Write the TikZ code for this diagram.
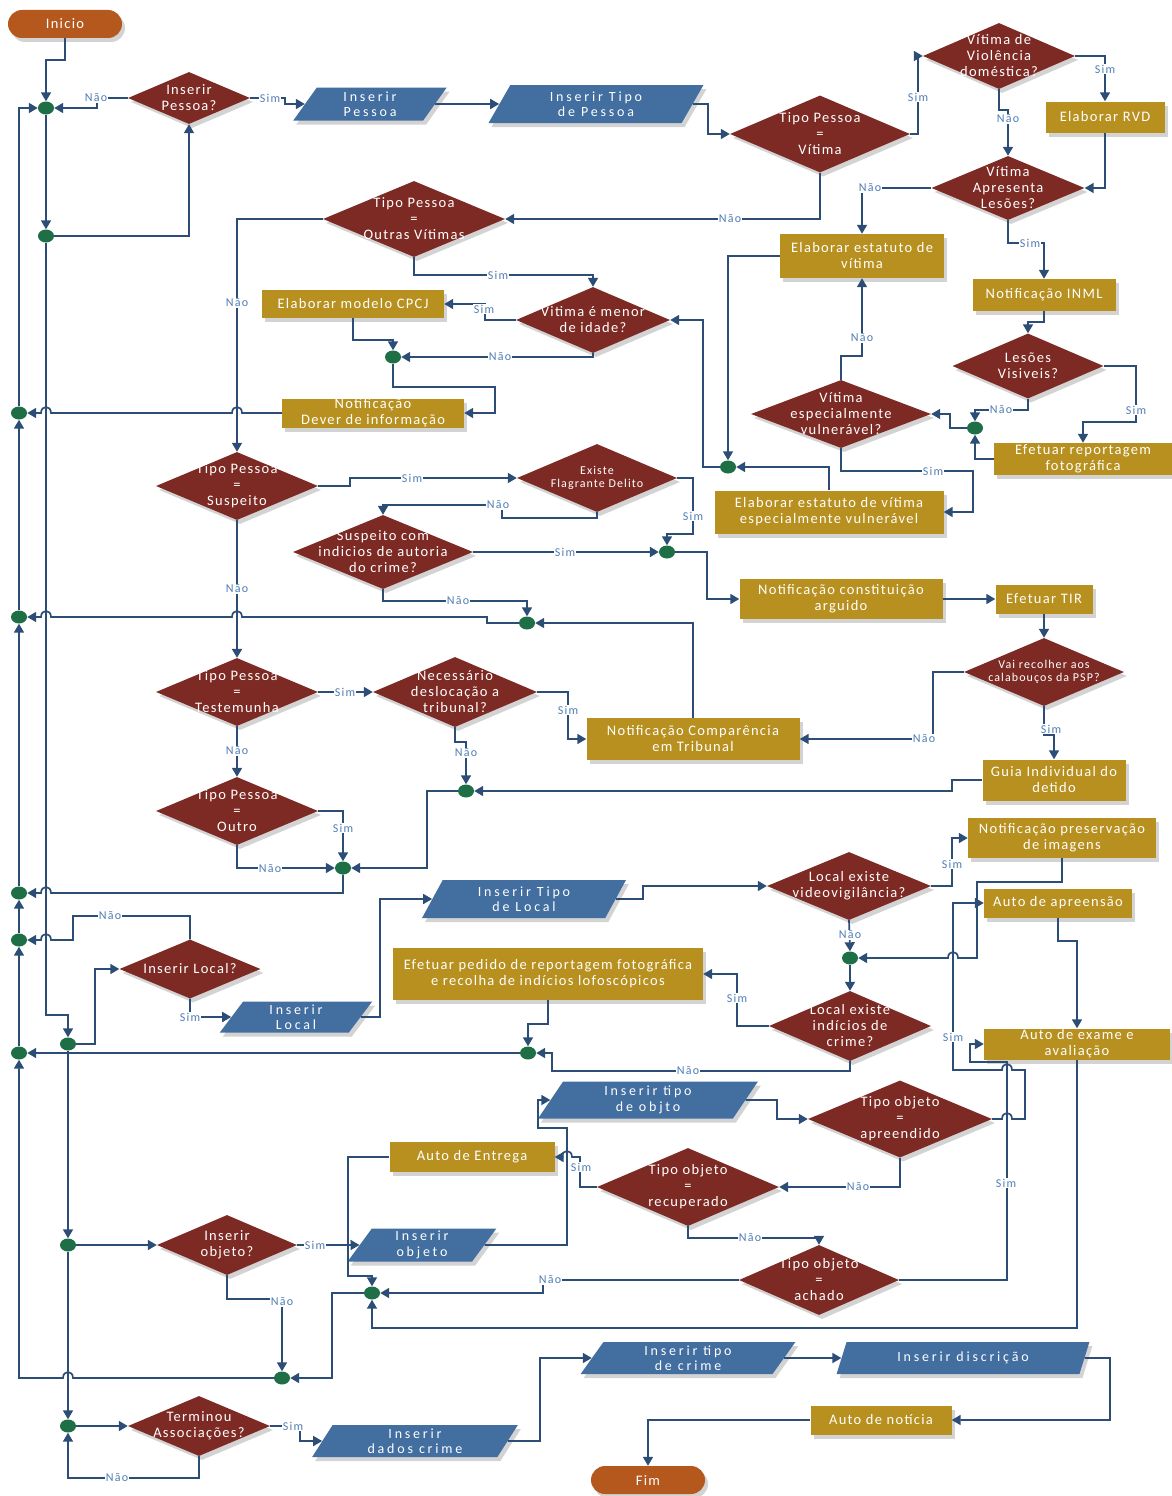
\documentclass[tikz,border=0pt]{standalone}
\usepackage{fontspec}
\setmainfont{Carlito}
\newfontfamily\boxfont[LetterSpace=9]{Carlito}
\newfontfamily\parafont[LetterSpace=20]{Carlito}
\newfontfamily\labfont[LetterSpace=10]{Carlito}
\usetikzlibrary{shapes.geometric,arrows.meta,shadows}
\definecolor{diac}{RGB}{125,42,36}
\definecolor{goldc}{RGB}{184,144,32}
\definecolor{bluec}{RGB}{66,110,160}
\definecolor{termc}{RGB}{180,88,30}
\definecolor{dotc}{RGB}{30,110,70}
\definecolor{linec}{RGB}{44,78,118}
\definecolor{lblc}{RGB}{80,125,180}
\tikzset{
 ln/.style={draw=linec, line width=1.7pt},
 ar/.style={ln, -{Triangle[length=9pt,width=10pt]}},
 heavy/.style={line width=2.7pt},
 shad/.style={drop shadow={shadow xshift=3pt, shadow yshift=-4pt, opacity=0.35, fill=black!50}},
 dia/.style={diamond, fill=diac, inner sep=0pt, shad},
 dtxt/.style={text=white, align=center, font={\boxfont\fontsize{14.5pt}{16pt}\selectfont}},
 dsmall/.style={font={\boxfont\fontsize{12pt}{13.5pt}\selectfont}},
 gbox/.style={rectangle, fill=goldc, text=white, inner sep=0pt, align=center, font={\boxfont\fontsize{14.5pt}{16pt}\selectfont}, shad},
 para/.style={trapezium, trapezium left angle=65, trapezium right angle=115, trapezium stretches=true, fill=bluec, text=white, inner sep=0pt, align=center, font={\parafont\fontsize{14pt}{15.5pt}\selectfont}, shad},
 term/.style={rectangle, rounded corners=14pt, fill=termc, text=white, font={\boxfont\fontsize{14.5pt}{16pt}\selectfont}, minimum width=114pt, minimum height=28pt, shad},
 jdot/.style={ellipse, fill=dotc, minimum width=16pt, minimum height=13pt, inner sep=0pt},
 lbl/.style={font={\labfont\fontsize{12pt}{13pt}\selectfont}, text=lblc, fill=white, inner sep=0.6pt},
}
\newcommand\dnode[7][]{\node[dia, minimum width=#5pt, minimum height=#6pt] (#2) at (#3,#4) {};
 \node[dtxt,#1] at (#2.center) {#7};}
\begin{document}
\begin{tikzpicture}[x=1pt,y=-1pt]
\useasboundingbox (0,0) rectangle (1172,1496);
% terminals
\node[term] (ini) at (65,24) {Inicio};
\node[term] (fim) at (648,1480) {Fim};
% parallelograms
\node[para, minimum width=154pt, minimum height=33pt] (PIP) at (370,104) {Inserir\\Pessoa};
\node[para, minimum width=215pt, minimum height=38pt] (PTP) at (596,104) {Inserir Tipo\\de Pessoa};
\node[para, minimum width=204pt, minimum height=38pt] (PTL) at (524,899) {Inserir Tipo\\de Local};
\node[para, minimum width=153pt, minimum height=31pt] (PIL) at (296,1017) {Inserir\\Local};
\node[para, minimum width=220pt, minimum height=37pt] (PTO) at (648,1100) {Inserir tipo\\de objto};
\node[para, minimum width=150pt, minimum height=33pt] (PIO) at (422,1245) {Inserir\\objeto};
\node[para, minimum width=206pt, minimum height=32pt] (PDC) at (415,1441) {Inserir\\dados crime};
\node[para, minimum width=215pt, minimum height=32pt] (PTC) at (688,1358) {Inserir tipo\\de crime};
\node[para, minimum width=253pt, minimum height=32pt] (PDI) at (963,1358) {Inserir discrição};
% gold boxes
\node[gbox, minimum width=119pt, minimum height=31pt] (RVD) at (1105,117) {Elaborar RVD};
\node[gbox, minimum width=164pt, minimum height=44pt] (EEV) at (862,256) {Elaborar estatuto de\\vítima};
\node[gbox, minimum width=143pt, minimum height=32pt] (INML) at (1044,295) {Notificação INML};
\node[gbox, minimum width=182pt, minimum height=28pt] (CPCJ) at (353,304) {Elaborar modelo CPCJ};
\node[gbox, minimum width=182pt, minimum height=29pt] (NDI) at (373,413) {Notificação\\Dever de informação};
\node[gbox, minimum width=178pt, minimum height=32pt] (ERF) at (1083,459) {Efetuar reportagem\\fotográfica};
\node[gbox, minimum width=229pt, minimum height=43pt] (EEVE) at (829,512) {Elaborar estatuto de vítima\\especialmente vulnerável};
\node[gbox, minimum width=203pt, minimum height=40pt] (NCA) at (841,599) {Notificação constituição\\arguido};
\node[gbox, minimum width=97pt, minimum height=29pt] (TIR) at (1044,599) {Efetuar TIR};
\node[gbox, minimum width=213pt, minimum height=42pt] (NCT) at (693,739) {Notificação Comparência\\em Tribunal};
\node[gbox, minimum width=143pt, minimum height=41pt] (GID) at (1054,780) {Guia Individual do\\detido};
\node[gbox, minimum width=188pt, minimum height=40pt] (NPI) at (1062,838) {Notificação preservação\\de imagens};
\node[gbox, minimum width=148pt, minimum height=29pt] (AAP) at (1058,903) {Auto de apreensão};
\node[gbox, minimum width=186pt, minimum height=31pt] (AEA) at (1077,1044) {Auto de exame e\\avaliação};
\node[gbox, minimum width=310pt, minimum height=52pt] (EPR) at (548,974) {Efetuar pedido de reportagem fotográfica\\e recolha de indícios lofoscópicos};
\node[gbox, minimum width=165pt, minimum height=30pt] (AEN) at (472,1157) {Auto de Entrega};
\node[gbox, minimum width=141pt, minimum height=29pt] (ANO) at (881,1420) {Auto de notícia};
% diamonds
\dnode{DIP}{189}{98}{122}{52}{Inserir\\Pessoa?}
\dnode{DTV}{820}{134}{180}{77}{Tipo Pessoa\\=\\Vítima}
\dnode{DVD}{999}{56}{152}{66}{Vítima de\\Violência\\doméstica?}
\dnode{DVL}{1008}{188}{153}{64}{Vítima\\Apresenta\\Lesões?}
\dnode{DOV}{414}{219}{182}{76}{Tipo Pessoa\\=\\Outras Vítimas}
\dnode{DME}{593}{320}{154}{66}{Vitima é menor\\de idade?}
\dnode{DLV}{1028}{366}{151}{65}{Lesões\\Visiveis?}
\dnode{DEV}{841}{414}{180}{68}{Vítima\\especialmente\\vulnerável?}
\dnode{DSU}{237}{486}{162}{68}{Tipo Pessoa\\=\\Suspeito}
\dnode[dsmall]{DFL}{597}{478}{160}{68}{Existe\\Flagrante Delito}
\dnode{DIN}{383}{552}{180}{74}{Suspeito com\\indicios de autoria\\do crime?}
\dnode[dsmall]{DPS}{1044}{672}{160}{68}{Vai recolher aos\\calabouços da PSP?}
\dnode{DTE}{237}{692}{162}{68}{Tipo Pessoa\\=\\Testemunha}
\dnode{DNE}{455}{692}{164}{70}{Necessário\\deslocação a\\tribunal?}
\dnode{DOU}{237}{811}{162}{68}{Tipo Pessoa\\=\\Outro}
\dnode{DVI}{849}{886}{164}{68}{Local existe\\videovigilância?}
\dnode{DIL}{190}{969}{141}{59}{Inserir Local?}
\dnode{DIC}{850}{1026}{162}{70}{Local existe\\indícios de\\crime?}
\dnode{DAP}{900}{1119}{184}{77}{Tipo objeto\\=\\apreendido}
\dnode{DRE}{688}{1187}{182}{78}{Tipo objeto\\=\\recuperado}
\dnode{DIO}{227}{1245}{140}{60}{Inserir\\objeto?}
\dnode{DAC}{819}{1280}{160}{70}{Tipo objeto\\=\\achado}
\dnode{DTA}{199}{1426}{142}{60}{Terminou\\Associações?}
% junction dots
\node[jdot] (J1) at (46,108) {};
\node[jdot] (J2) at (46,236) {};
\node[jdot] (Jl) at (68,1044) {};
\node[jdot] (Jo) at (68,1245) {};
\node[jdot] (Jt) at (68,1426) {};
\node[jdot] (L1) at (19,413) {};
\node[jdot] (L2) at (19,617) {};
\node[jdot] (L3) at (19,893) {};
\node[jdot] (L4) at (19,940) {};
\node[jdot] (L5) at (19,1053) {};
\node[jdot] (Jcp) at (393,357) {};
\node[jdot] (Jev) at (728,467) {};
\node[jdot] (Jvu) at (975,428) {};
\node[jdot] (Jar) at (667,552) {};
\node[jdot] (Jte) at (527,623) {};
\node[jdot] (Jne) at (466,791) {};
\node[jdot] (Jou) at (343,868) {};
\node[jdot] (Jvi) at (850,958) {};
\node[jdot] (Jef) at (528,1053) {};
\node[jdot] (Jen) at (372,1293) {};
\node[jdot] (Jfi) at (282,1378) {};
% connectors
\draw[ar] (ini.south) -- (65,60) -- (46,60) -- (J1.north);
\draw[ar] (DIP.west) -- (97,98) -- (97,108) -- (J1.east);
\draw[ar] (L1.north) -- (19,108) -- (J1.west);
\draw[ar] (J1.south) -- (J2.north);
\draw[ar] (J2.east) -- (189,236) -- (DIP.south);
\draw[ar] (J2.south) -- (46,1015) -- (68,1015) -- (Jl.north);
\draw[ar] (DIP.east) -- (285,98) -- (285,104) -- (PIP.west);
\draw[ar] (PIP.east) -- (PTP.west);
\draw[ar] (PTP.east) -- (708,104) -- (708,134) -- (DTV.west);
\draw[ar] (DTV.east) -- (918,134) -- (918,56) -- (DVD.west);
\draw[ar] (DVD.east) -- (1105,56) -- (RVD.north);
\draw[ar] (DVD.south) -- (999,110) -- (1008,110) -- (DVL.north);
\draw[ar] (RVD.south) -- (1105,188) -- (DVL.east);
\draw[ar] (DVL.west) -- (862,188) -- (EEV.north);
\draw[ar] (DVL.south) -- (1008,243) -- (1044,243) -- (INML.north);
\draw[ar] (INML.south) -- (1044,322) -- (1028,322) -- (DLV.north);
\draw[ar] (DLV.south) -- (1028,410) -- (975,410) -- (Jvu.north);
\draw[ar] (DLV.east) -- (1136,366) -- (1136,422) -- (1083,422) -- (ERF.north);
\draw[ar] (ERF.west) -- (975,459) -- (Jvu.south);
\draw[ar] (Jvu.west) -- (950,428) -- (950,414) -- (DEV.east);
\draw[ar] (DEV.north) -- (841,356) -- (862,356) -- (EEV.south);
\draw[ar] (DEV.south) -- (841,471) -- (973,471) -- (973,512) -- (EEVE.east);
\draw[ar] (EEVE.north) -- (829,467) -- (Jev.east);
\draw[ar] (EEV.west) -- (728,256) -- (Jev.north);
\draw[ar] (Jev.west) -- (703,467) -- (703,320) -- (DME.east);
\draw[ar] (DTV.south) -- (820,219) -- (DOV.east);
\draw[ar] (DOV.west) -- (237,219) -- (DSU.north);
\draw[ar] (DOV.south) -- (414,275) -- (593,275) -- (DME.north);
\draw[ar] (DME.west) -- (485,320) -- (485,304) -- (CPCJ.east);
\draw[ar] (DME.south) -- (593,357) -- (Jcp.east);
\draw[ar] (CPCJ.south) -- (353,340) -- (393,340) -- (Jcp.north);
\draw[ar] (Jcp.south) -- (393,387) -- (495,387) -- (495,413) -- (NDI.east);
\draw[ar] (NDI.west) -- (242,413) .. controls (242,405) and (232,405) .. (232,413) -- (51,413) .. controls (51,405) and (41,405) .. (41,413) -- (L1.east);
\draw[ar] (L2.north) -- (L1.south);
\draw[ar] (L3.north) -- (L2.south);
\draw[ar] (L4.north) -- (L3.south);
\draw[ar] (L5.north) -- (L4.south);
\draw[ar] (DSU.east) -- (350,486) -- (350,478) -- (DFL.west);
\draw[ar,heavy] (DSU.south) -- (DTE.north);
\draw[ar] (DFL.east) -- (693,478) -- (693,534) -- (667,534) -- (Jar.north);
\draw[ar] (DFL.south) -- (597,518) -- (502,518) -- (502,505) -- (383,505) -- (DIN.north);
\draw[ar,heavy] (DIN.east) -- (Jar.west);
\draw[ar] (DIN.south) -- (383,601) -- (527,601) -- (Jte.north);
\draw[ar] (Jar.east) -- (707,552) -- (707,599) -- (NCA.west);
\draw[ar] (NCA.east) -- (TIR.west);
\draw[ar] (TIR.south) -- (DPS.north);
\draw[ar] (DPS.west) -- (933,672) -- (933,739) -- (NCT.east);
\draw[ar] (DPS.south) -- (1044,735) -- (1054,735) -- (GID.north);
\draw[ar] (GID.west) -- (952,780) -- (952,791) -- (Jne.east);
\draw[ar] (NCT.north) -- (693,623) -- (Jte.east);
\draw[ar] (Jte.west) -- (487,623) -- (487,617) -- (242,617) .. controls (242,609) and (232,609) .. (232,617) -- (51,617) .. controls (51,609) and (41,609) .. (41,617) -- (L2.east);
\draw[ar] (DTE.east) -- (DNE.west);
\draw[ar] (DTE.south) -- (DOU.north);
\draw[ar] (DNE.east) -- (568,692) -- (568,739) -- (NCT.west);
\draw[ar] (DNE.south) -- (455,742) -- (466,742) -- (Jne.north);
\draw[ar] (Jne.west) -- (427,791) -- (427,868) -- (Jou.east);
\draw[ar] (DOU.east) -- (343,811) -- (Jou.north);
\draw[ar] (DOU.south) -- (237,868) -- (Jou.west);
\draw[ar] (Jou.south) -- (343,893) -- (51,893) .. controls (51,885) and (41,885) .. (41,893) -- (L3.east);
\draw[ar] (DIL.north) -- (190,916) -- (73,916) -- (73,940) -- (51,940) .. controls (51,932) and (41,932) .. (41,940) -- (L4.east);
\draw[ar] (Jl.east) -- (95,1044) -- (95,969) -- (DIL.west);
\draw[ar] (DIL.south) -- (190,1017) -- (PIL.west);
\draw[ar] (PIL.east) -- (380,1017) -- (380,899) -- (PTL.west);
\draw[ar] (PTL.east) -- (643,899) -- (643,886) -- (DVI.west);
\draw[ar] (DVI.east) -- (952,886) -- (952,838) -- (NPI.west);
\draw[ar] (DVI.south) -- (Jvi.north);
\draw[ar] (NPI.south) -- (1062,882) -- (977,882) -- (977,958) -- (958,958) .. controls (958,950) and (948,950) .. (948,958) -- (Jvi.east);
\draw[ar] (Jvi.south) -- (DIC.north);
\draw[ar] (DIC.west) -- (737,1026) -- (737,974) -- (EPR.east);
\draw[ar] (DIC.south) -- (850,1071) -- (552,1071) -- (552,1053) -- (Jef.east);
\draw[ar] (EPR.south) -- (548,1024) -- (528,1024) -- (Jef.north);
\draw[ar] (Jef.west) -- (L5.east);
\draw[ar] (Jl.south) -- (Jo.north);
\draw[ar] (Jo.east) -- (DIO.west);
\draw[ar] (Jo.south) -- (Jt.north);
\draw[ar] (DIO.east) -- (PIO.west);
\draw[ar] (DIO.south) -- (227,1299) -- (282,1299) -- (Jfi.north);
\draw[ar] (Jfi.west) -- (73,1378) .. controls (73,1370) and (63,1370) .. (63,1378) -- (19,1378) -- (L5.south);
\draw[ar] (PIO.east) -- (567,1245) -- (567,1128) -- (538,1128) -- (538,1100) -- (PTO.west);
\draw[ar] (PTO.east) -- (777,1100) -- (777,1119) -- (DAP.west);
\draw[ar] (DAP.south) -- (900,1187) -- (DRE.east);
\draw[ar] (DAP.east) -- (1002,1119) .. controls (1002,1111) and (1012,1111) .. (1012,1119) -- (1025,1119) -- (1025,1070) -- (1012,1070) .. controls (1012,1062) and (1002,1062) .. (1002,1070) -- (953,1070) -- (953,903) -- (AAP.west);
\draw[ar] (AAP.south) -- (1058,941) -- (1077,941) -- (AEA.north);
\draw[ar] (DAC.east) -- (1007,1280) -- (1007,1062) -- (970,1062) -- (970,1044) -- (AEA.west);
\draw[ar] (AEA.south) -- (1077,1328) -- (372,1328) -- (Jen.south);
\draw[ar] (DRE.west) -- (580,1187) -- (580,1157) -- (572,1157) .. controls (572,1149) and (562,1149) .. (562,1157) -- (AEN.east);
\draw[ar] (DRE.south) -- (688,1238) -- (819,1238) -- (DAC.north);
\draw[ar] (DAC.west) -- (543,1280) -- (543,1293) -- (Jen.east);
\draw[ar] (AEN.west) -- (348,1157) -- (348,1276) -- (372,1276) -- (Jen.north);
\draw[ar] (Jen.west) -- (332,1293) -- (332,1378) -- (Jfi.east);
\draw[ar] (Jt.east) -- (DTA.west);
\draw[ar] (DTA.south) -- (199,1478) -- (68,1478) -- (Jt.south);
\draw[ar] (DTA.east) -- (300,1426) -- (300,1441) -- (PDC.west);
\draw[ar] (PDC.east) -- (540,1441) -- (540,1358) -- (PTC.west);
\draw[ar] (PTC.east) -- (PDI.west);
\draw[ar] (PDI.east) -- (1110,1358) -- (1110,1420) -- (ANO.east);
\draw[ar] (ANO.west) -- (648,1420) -- (fim.north);
% labels
\node[lbl] at (96,98) {Não};
\node[lbl] at (270,98) {Sim};
\node[lbl] at (918,97) {Sim};
\node[lbl] at (1105,69) {Sim};
\node[lbl] at (1008,119) {Não};
\node[lbl] at (870,188) {Não};
\node[lbl] at (1030,243) {Sim};
\node[lbl] at (1001,410) {Não};
\node[lbl] at (1136,410) {Sim};
\node[lbl] at (862,338) {Não};
\node[lbl] at (933,471) {Sim};
\node[lbl] at (730,219) {Não};
\node[lbl] at (237,303) {Não};
\node[lbl] at (498,275) {Sim};
\node[lbl] at (484,309) {Sim};
\node[lbl] at (500,357) {Não};
\node[lbl] at (412,478) {Sim};
\node[lbl] at (237,589) {Não};
\node[lbl] at (693,516) {Sim};
\node[lbl] at (498,505) {Não};
\node[lbl] at (565,552) {Sim};
\node[lbl] at (458,601) {Não};
\node[lbl] at (924,739) {Não};
\node[lbl] at (1051,729) {Sim};
\node[lbl] at (345,692) {Sim};
\node[lbl] at (237,751) {Não};
\node[lbl] at (568,710) {Sim};
\node[lbl] at (466,753) {Não};
\node[lbl] at (343,828) {Sim};
\node[lbl] at (270,869) {Não};
\node[lbl] at (110,916) {Não};
\node[lbl] at (190,1017) {Sim};
\node[lbl] at (952,864) {Sim};
\node[lbl] at (850,935) {Não};
\node[lbl] at (737,998) {Sim};
\node[lbl] at (688,1071) {Não};
\node[lbl] at (315,1245) {Sim};
\node[lbl] at (282,1302) {Não};
\node[lbl] at (953,1037) {Sim};
\node[lbl] at (1006,1183) {Sim};
\node[lbl] at (858,1187) {Não};
\node[lbl] at (581,1167) {Sim};
\node[lbl] at (750,1238) {Não};
\node[lbl] at (550,1280) {Não};
\node[lbl] at (117,1478) {Não};
\node[lbl] at (293,1426) {Sim};
\end{tikzpicture}
\end{document}
